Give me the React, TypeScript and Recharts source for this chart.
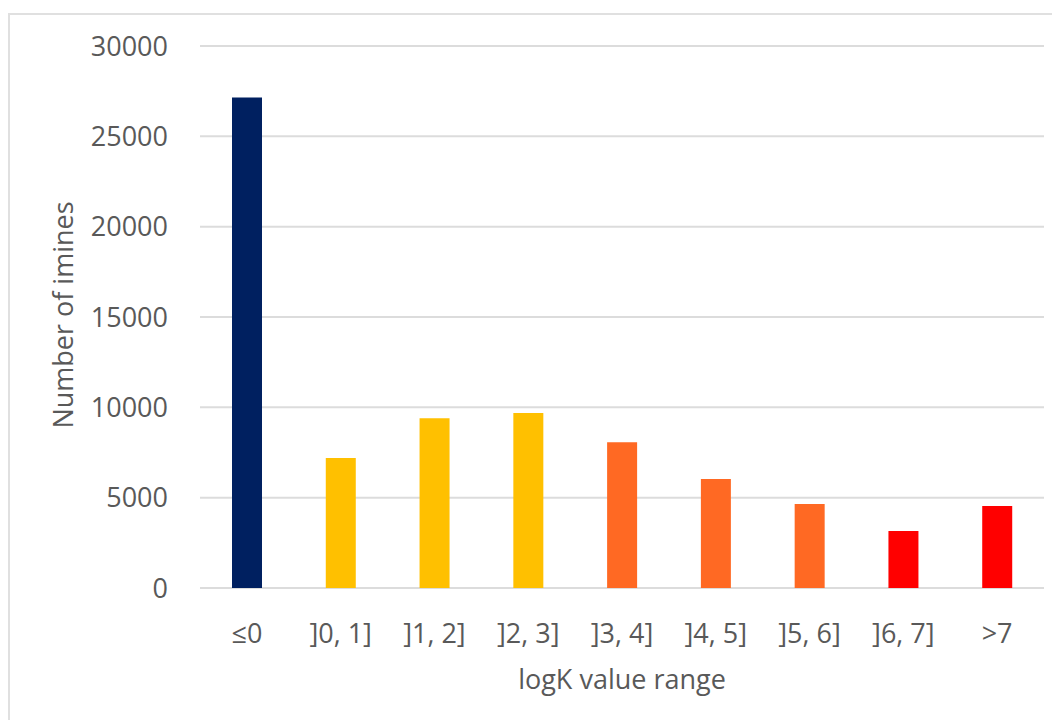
import React from 'react';
import { BarChart, Bar, XAxis, YAxis, CartesianGrid, Cell } from 'recharts';

// logK ranges and counts
const ranges = ['≤0', ']0, 1]', ']1, 2]', ']2, 3]', ']3, 4]', ']4, 5]', ']5, 6]', ']6, 7]', '>7'];
const imineCounts = [27150, 7190, 9400, 9680, 8070, 6030, 4650, 3150, 4540];
const yTicks = [0, 5000, 10000, 15000, 20000, 25000, 30000];

const barColors = ['#002060', '#FFC000', '#FFC000', '#FFC000', '#FF6923', '#FF6923', '#FF6923', '#FF0000', '#FF0000'];

const FONT = '"Open Sans", sans-serif';
const TEXT = '#595959';

const data = ranges.map((range, i) => ({ range, count: imineCounts[i] }));

const App: React.FC = () => {
  return (
    <div style={{ position: 'relative', width: 1052, height: 712, overflow: 'hidden', background: '#fff' }}>
      {/* chart frame, runs past the right and bottom edges */}
      <div style={{ position: 'absolute', left: 0, top: 5, width: 1100, height: 800, border: '2px solid #e0e0e0' }} />
      <div style={{ position: 'absolute', left: -8, top: -8 }}>
        <BarChart width={1060} height={720} data={data} margin={{ top: 46, right: 16, bottom: 0, left: 0 }}>
          <CartesianGrid vertical={false} stroke="#dcdcdc" strokeWidth={2} />
          <XAxis
            dataKey="range"
            interval={0}
            height={132}
            tickLine={false}
            axisLine={false}
            tickMargin={30}
            tick={{ fill: TEXT, fontSize: 27, fontFamily: FONT }}
            label={{
              content: ({ viewBox }: any) => (
                <text x={viewBox.x + viewBox.width / 2} y={689} textAnchor="middle" fill={TEXT} fontSize={27} fontFamily={FONT}>
                  logK value range
                </text>
              ),
            }}
          />
          <YAxis
            width={200}
            domain={[0, 30000]}
            ticks={yTicks}
            tickLine={false}
            axisLine={false}
            tickMargin={26}
            tick={{ fill: TEXT, fontSize: 27, fontFamily: FONT }}
            label={{
              content: () => (
                <text x={73} y={315} transform="rotate(-90, 73, 315)" textAnchor="middle" fill={TEXT} fontSize={27} fontFamily={FONT}>
                  Number of imines
                </text>
              ),
            }}
          />
          <Bar dataKey="count" barSize={30} isAnimationActive={false}>
            {data.map((entry, index) => (
              <Cell key={`cell-${index}`} fill={barColors[index]} />
            ))}
          </Bar>
        </BarChart>
      </div>
    </div>
  );
};

export default App;
